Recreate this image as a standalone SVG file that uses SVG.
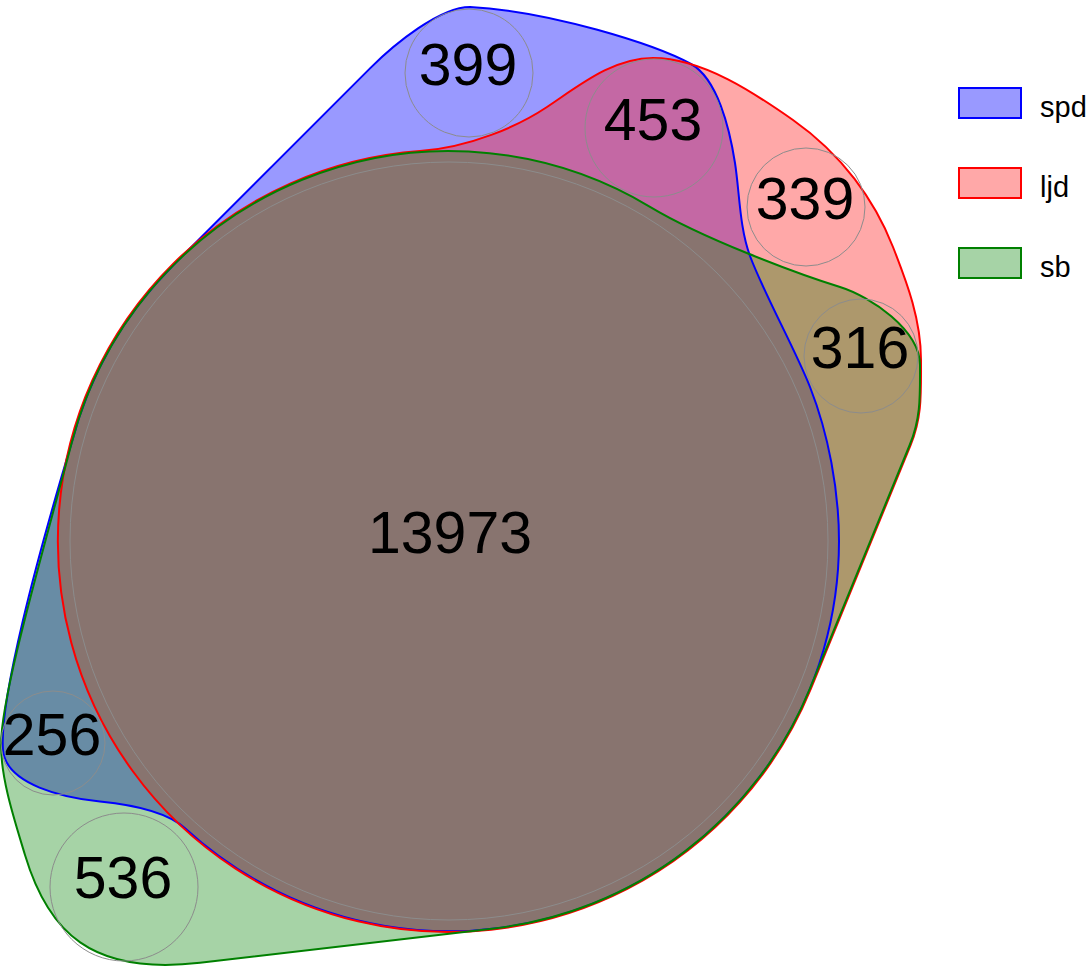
<svg xmlns="http://www.w3.org/2000/svg" width="1090" height="974" viewBox="0 0 1090 974">
<defs>
<path id="p-spd" d="M 173.2,265.2 L 370,68.4 C 394.7,43.7 440,7 470,7 C 550,11 655.9,44.8 691,64 C 717.3,78.4 729.6,128.4 735,163 C 739.6,192.6 739.5,227.8 750,256 C 764,293.6 795.4,349.8 810,387 C 828.3,433.6 839,490 839,541 A 390 390 0 0 1 185,828.3 C 166.6,811.4 130,804.5 100,801.5 C 65,798 6,785 3,750 C -1,700 37,558 71.9,441.9 A 390 390 0 0 1 173.2,265.2 Z"/>
<path id="p-ljd" d="M 420,151.1 C 469.9,147.4 517.9,126.4 547,107 C 580.3,84.8 613,58 653,58 C 703,58 756.2,94.2 793,120 C 842.1,154.4 874.7,200.5 893,247 C 907.6,284.2 921,320 921,360 C 921,395 922,417.3 910.6,445 L 810.7,689.2 A 391 391 0 1 1 420,151.1 Z"/>
<path id="p-sb" d="M 71.9,441.9 A 390 390 0 0 1 650,206.8 C 701.4,237.7 795,273 840,287 C 870,296.3 920,330 920,365 C 920,395 921.1,417.3 909.7,445 L 809.8,688.8 A 390 390 0 0 1 494.2,928.4 L 200,962.8 C 90.8,975.6 48,931.6 25,855 C 15,821.5 1,780 1,745 C 1,695 41.4,557.9 71.9,441.9 Z"/>
<clipPath id="c-spd"><use href="#p-spd"/></clipPath>
<clipPath id="c-ljd"><use href="#p-ljd"/></clipPath>
<clipPath id="c-sb"><use href="#p-sb"/></clipPath>
</defs>
<style>
.f-spd{fill:#0000ff;fill-opacity:0.4;stroke:none}
.f-ljd{fill:#ff0000;fill-opacity:0.34;stroke:none}
.f-sb{fill:#008000;fill-opacity:0.35;stroke:none}
.s-spd{fill:none;stroke:#0000ff;stroke-width:2}
.s-ljd{fill:none;stroke:#ff0000;stroke-width:2}
.s-sb{fill:none;stroke:#008000;stroke-width:2}
.reg{fill:none;stroke:#8c8c8c;stroke-width:1}
.num{font-family:"Liberation Sans",Arial,sans-serif;font-size:59px;fill:#000;text-anchor:middle}
.leg{font-family:"Liberation Sans",Arial,sans-serif;font-size:29px;fill:#000}
</style>
<rect width="1090" height="974" fill="#fff"/>
<g id="sets">
<use id="set-spd" href="#p-spd" class="f-spd"/>
<use id="set-ljd" href="#p-ljd" class="f-ljd"/>
<use id="set-sb" href="#p-sb" class="f-sb"/>
<g id="spd-ljd" clip-path="url(#c-spd)"><rect x="0" y="0" width="1090" height="974" fill="#c468a4" clip-path="url(#c-ljd)"/></g>
<g id="spd-sb" clip-path="url(#c-spd)"><rect x="0" y="0" width="1090" height="974" fill="#688ca5" clip-path="url(#c-sb)"/></g>
<g id="ljd-sb" clip-path="url(#c-ljd)"><rect x="0" y="0" width="1090" height="974" fill="#ad986c" clip-path="url(#c-sb)"/></g>
<g id="triple" clip-path="url(#c-spd)"><g clip-path="url(#c-ljd)"><rect x="0" y="0" width="1090" height="974" fill="#88746f" clip-path="url(#c-sb)"/></g></g>
<use href="#p-spd" class="s-spd"/>
<use href="#p-ljd" class="s-ljd"/>
<use href="#p-sb" class="s-sb"/>
</g>
<g id="regions">
<g id="r-13973"><circle class="reg" cx="449" cy="541" r="379" stroke="#999"/><text class="num" x="450" y="553">13973</text></g>
<g id="r-399"><circle class="reg" cx="469" cy="73" r="64"/><text class="num" x="468" y="85">399</text></g>
<g id="r-453"><circle class="reg" cx="654" cy="128" r="69"/><text class="num" x="653" y="140">453</text></g>
<g id="r-339"><circle class="reg" cx="806" cy="207" r="59"/><text class="num" x="805" y="219">339</text></g>
<g id="r-316"><circle class="reg" cx="861" cy="356" r="57"/><text class="num" x="860" y="368">316</text></g>
<g id="r-256"><circle class="reg" cx="53" cy="743" r="52"/><text class="num" x="52" y="755">256</text></g>
<g id="r-536"><circle class="reg" cx="124" cy="887" r="74"/><text class="num" x="123" y="898">536</text></g>
</g>
<g id="legend">
<g id="leg-spd"><rect class="f-spd" x="959" y="88" width="62" height="30"/><rect class="s-spd" x="959" y="88" width="62" height="30"/><text class="leg" x="1040" y="117">spd</text></g>
<g id="leg-ljd"><rect class="f-ljd" x="959" y="168" width="62" height="30"/><rect class="s-ljd" x="959" y="168" width="62" height="30"/><text class="leg" x="1040" y="197">ljd</text></g>
<g id="leg-sb"><rect class="f-sb" x="959" y="248" width="62" height="30"/><rect class="s-sb" x="959" y="248" width="62" height="30"/><text class="leg" x="1040" y="277">sb</text></g>
</g>
</svg>
